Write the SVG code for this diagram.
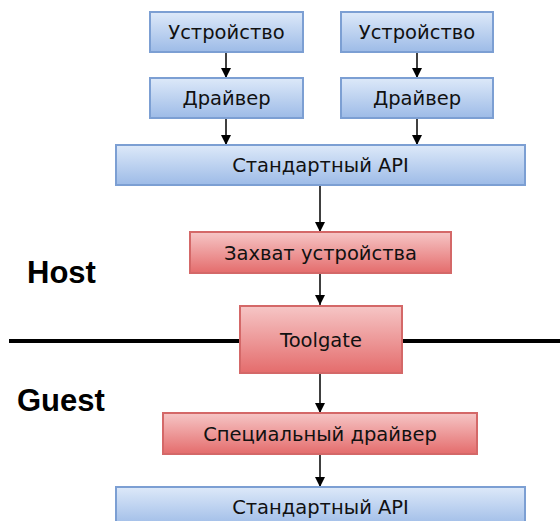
<svg xmlns="http://www.w3.org/2000/svg" width="560" height="521" viewBox="0 0 560 521">
<defs>
<linearGradient id="gb" x1="0" y1="0" x2="0" y2="1">
<stop offset="0" stop-color="#dde9f9"/>
<stop offset="1" stop-color="#9dbbe7"/>
</linearGradient>
<linearGradient id="gr" x1="0" y1="0" x2="0" y2="1">
<stop offset="0" stop-color="#f6c6c6"/>
<stop offset="1" stop-color="#e46c6c"/>
</linearGradient>
<marker id="ah" viewBox="0 0 10 10" refX="10" refY="5" markerWidth="10" markerHeight="10" markerUnits="userSpaceOnUse" orient="auto">
<path d="M0,0 L10,5 L0,10 z" fill="#000"/>
</marker>
<style>
.b{fill:url(#gb);stroke:#7c9fd3;stroke-width:2}
.r{fill:url(#gr);stroke:#d46868;stroke-width:2}
.t{font-family:"DejaVu Sans",Verdana,sans-serif;font-size:19.5px;fill:#111;text-anchor:middle}
.lab{font-family:"Liberation Sans",Arial,sans-serif;font-size:31px;font-weight:bold;fill:#000}
.c{stroke:#000;stroke-width:1.5;fill:none;marker-end:url(#ah)}
</style>
</defs>
<rect width="560" height="521" fill="#fff"/>
<line x1="9" y1="341" x2="560" y2="341" stroke="#000" stroke-width="4"/>
<text class="lab" x="27" y="283">Host</text>
<text class="lab" x="17" y="411">Guest</text>
<g id="connectors">
<line class="c" x1="226" y1="52" x2="226" y2="78"/>
<line class="c" x1="417" y1="52" x2="417" y2="78"/>
<line class="c" x1="226" y1="118" x2="226" y2="145"/>
<line class="c" x1="417" y1="118" x2="417" y2="145"/>
<line class="c" x1="320" y1="185" x2="320" y2="232"/>
<line class="c" x1="320" y1="273" x2="320" y2="305"/>
<line class="c" x1="320" y1="373" x2="320" y2="413"/>
<line class="c" x1="320" y1="454" x2="320" y2="487"/>
</g>
<g id="dev1"><rect class="b" x="150" y="12" width="153" height="40"/><text class="t" x="226.5" y="39">Устройство</text></g>
<g id="dev2"><rect class="b" x="341" y="12" width="152" height="40"/><text class="t" x="417" y="39">Устройство</text></g>
<g id="drv1"><rect class="b" x="150" y="78" width="153" height="40"/><text class="t" x="226.5" y="105">Драйвер</text></g>
<g id="drv2"><rect class="b" x="341" y="78" width="152" height="40"/><text class="t" x="417" y="105">Драйвер</text></g>
<g id="api1"><rect class="b" x="116" y="145" width="409" height="40"/><text class="t" x="320.5" y="172">Стандартный API</text></g>
<g id="capture"><rect class="r" x="190" y="232" width="261" height="41"/><text class="t" x="320.5" y="260">Захват устройства</text></g>
<g id="toolgate"><rect class="r" x="240" y="306" width="162" height="67"/><text class="t" x="321" y="347">Toolgate</text></g>
<g id="special"><rect class="r" x="163" y="413" width="314" height="41"/><text class="t" x="320" y="441">Специальный драйвер</text></g>
<g id="api2"><rect class="b" x="116" y="487" width="409" height="40"/><text class="t" x="320.5" y="514">Стандартный API</text></g>
</svg>
